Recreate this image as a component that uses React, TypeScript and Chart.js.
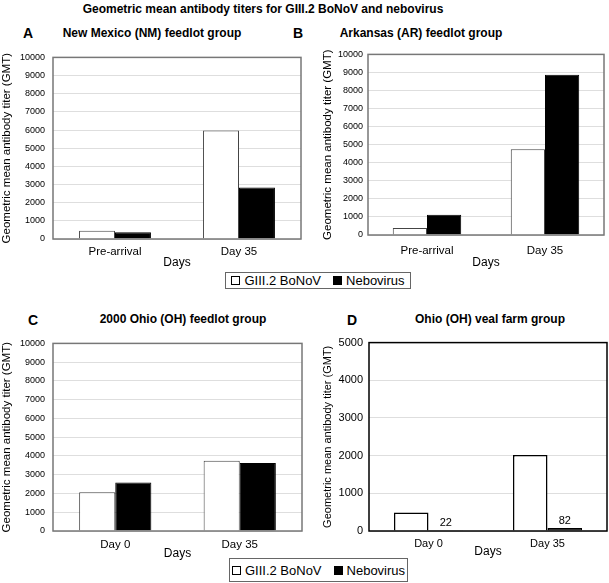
import React, { useEffect, useRef } from "react";
import { Chart, registerables } from "chart.js";
Chart.register(...registerables);

const FONT = "'Liberation Sans', Arial, Helvetica, sans-serif";

const mainTitle = "Geometric mean antibody titers for GIII.2 BoNoV and nebovirus";
const seriesLabels = ["GIII.2 BoNoV", "Nebovirus"];
const feedlotDays = ["Pre-arrival", "Day 35"];
const ohioDays = ["Day 0", "Day 35"];
const xTitle = "Days";
const yTitle = "Geometric mean antibody titer (GMT)";

const nmBoNoV = [450, 5980];
const nmNebovirus = [370, 2830];
const arBoNoV = [390, 4750];
const arNebovirus = [1120, 8880];
const oh2000BoNoV = [2060, 3750];
const oh2000Nebovirus = [2580, 3620];
const vealBoNoV = [490, 2020];
const vealNebovirus = [22, 82];

const feedlotYMax = 10000;
const vealYMax = 5000;
const yStep = 1000;

type Geom = {
  x: number; y: number; w: number; h: number;
  yAxisW: number; padTop: number; padRight: number; xAxisH: number;
  xTickPad: number; xTitlePad: number; yTickPad: number; yTitlePad: number;
};
type Sty = {
  frameColor: string; frameWidth: number; whiteBorder: string; barBorder: number;
  xTickSize: number; yTickSize: number; yTitleSize: number; gridColor: string;
};

function BarPanel(props: {
  labels: string[]; bonov: number[]; nebo: number[]; yMax: number; g: Geom; s: Sty; showValues?: boolean;
}) {
  const { labels, bonov, nebo, yMax, g, s, showValues } = props;
  const ref = useRef<HTMLCanvasElement>(null);
  useEffect(() => {
    const frame = {
      id: "frame",
      afterDatasetsDraw(chart: any) {
        const { ctx, chartArea: ca } = chart;
        ctx.save();
        ctx.strokeStyle = s.frameColor;
        ctx.lineWidth = s.frameWidth;
        ctx.strokeRect(ca.left, ca.top, ca.right - ca.left, ca.bottom - ca.top);
        ctx.restore();
      },
    };
    const valueLabels = {
      id: "valueLabels",
      afterDatasetsDraw(chart: any) {
        if (!showValues) return;
        const { ctx } = chart;
        const meta = chart.getDatasetMeta(1);
        ctx.save();
        ctx.fillStyle = "#000";
        ctx.font = `11px ${FONT}`;
        ctx.textAlign = "center";
        ctx.textBaseline = "alphabetic";
        meta.data.forEach((el: any, i: number) => {
          ctx.fillText(String(chart.data.datasets[1].data[i]), el.x, el.y - 4);
        });
        ctx.restore();
      },
    };
    const chart = new Chart(ref.current as HTMLCanvasElement, {
      type: "bar",
      data: {
        labels,
        datasets: [
          {
            label: seriesLabels[0], data: bonov, backgroundColor: "#ffffff", borderColor: s.whiteBorder,
            borderWidth: s.barBorder, categoryPercentage: 0.58, barPercentage: 1,
          },
          {
            label: seriesLabels[1], data: nebo, backgroundColor: "#000000", borderColor: "#000000",
            borderWidth: s.barBorder, categoryPercentage: 0.58, barPercentage: 1,
          },
        ],
      },
      options: {
        responsive: false,
        animation: false,
        layout: { padding: { left: 0, top: g.padTop, right: g.padRight, bottom: 0 } },
        plugins: { legend: { display: false }, tooltip: { enabled: false }, title: { display: false } },
        scales: {
          x: {
            grid: { display: false, drawTicks: false },
            border: { display: false },
            ticks: { color: "#000", font: { family: FONT, size: s.xTickSize }, padding: g.xTickPad, maxRotation: 0, autoSkip: false },
            title: { display: true, text: xTitle, color: "#000", font: { family: FONT, size: 12 }, padding: { top: 0, bottom: g.xTitlePad } },
            afterFit: (sc: any) => { sc.height = g.xAxisH; },
          },
          y: {
            min: 0, max: yMax,
            ticks: {
              stepSize: yStep, color: "#000", font: { family: FONT, size: s.yTickSize }, padding: g.yTickPad,
              callback: (v: any) => String(v),
            },
            grid: { color: s.gridColor, drawTicks: false, lineWidth: 1 },
            border: { display: false },
            title: { display: true, text: yTitle, color: "#000", font: { family: FONT, size: s.yTitleSize }, padding: { top: g.yTitlePad, bottom: 0 } },
            afterFit: (sc: any) => { sc.width = g.yAxisW; },
          },
        },
      } as any,
      plugins: [frame, valueLabels],
    });
    return () => chart.destroy();
  }, []);
  return (
    <canvas ref={ref} width={g.w} height={g.h}
      style={{ position: "absolute", left: g.x, top: g.y, width: g.w, height: g.h }} />
  );
}

function Text(props: { cx?: number; left?: number; top: number; size: number; bold?: boolean; children: any }) {
  const { cx, left, top, size, bold, children } = props;
  const base: any = {
    position: "absolute", top, fontFamily: FONT, fontSize: size, lineHeight: `${size}px`,
    fontWeight: bold ? "bold" : "normal", color: "#000", whiteSpace: "nowrap",
  };
  if (cx !== undefined) {
    return <div style={{ ...base, left: cx - 250, width: 500, textAlign: "center" }}>{children}</div>;
  }
  return <div style={{ ...base, left }}>{children}</div>;
}

function Legend(props: { left: number; top: number; width: number; height: number }) {
  const { left, top, width, height } = props;
  return (
    <div style={{
      position: "absolute", left, top, width, height, boxSizing: "border-box", border: "1px solid #666",
      background: "#fff", display: "flex", alignItems: "center", justifyContent: "center", gap: 12,
      fontFamily: FONT, fontSize: 13, color: "#000", zIndex: 2,
    }}>
      {seriesLabels.map((l, i) => (
        <span key={l} style={{ display: "flex", alignItems: "center" }}>
          <span style={{
            display: "inline-block", width: 9, height: 9, boxSizing: "border-box", border: "1px solid #000",
            background: i === 0 ? "#fff" : "#000", marginRight: 4,
          }} />
          {l}
        </span>
      ))}
    </div>
  );
}

const grayStyle: Sty = {
  frameColor: "#777", frameWidth: 1.5, whiteBorder: "#444", barBorder: 1,
  xTickSize: 11.5, yTickSize: 9, yTitleSize: 11.5, gridColor: "#dedede",
};
const blackStyle: Sty = {
  frameColor: "#000", frameWidth: 1.5, whiteBorder: "#000", barBorder: 1.5,
  xTickSize: 11, yTickSize: 11, yTitleSize: 11, gridColor: "#dedede",
};

export default function App() {
  return (
    <div style={{ position: "absolute", left: 0, top: 0, width: 609, height: 583, background: "#fff", overflow: "hidden" }}>
      <Text cx={263} top={3} size={12} bold>{mainTitle}</Text>

      <Text left={23} top={26} size={14} bold>A</Text>
      <Text cx={152} top={27} size={12} bold>New Mexico (NM) feedlot group</Text>
      <Text left={293} top={26} size={14} bold>B</Text>
      <Text cx={421} top={27} size={12} bold>Arkansas (AR) feedlot group</Text>
      <Text left={28} top={313} size={14} bold>C</Text>
      <Text cx={183} top={313} size={12} bold>2000 Ohio (OH) feedlot group</Text>
      <Text left={347} top={313} size={14} bold>D</Text>
      <Text cx={490} top={313} size={12} bold>Ohio (OH) veal farm group</Text>

      <BarPanel labels={feedlotDays} bonov={nmBoNoV} nebo={nmNebovirus} yMax={feedlotYMax} s={grayStyle}
        g={{ x: 0, y: 44, w: 305, h: 234, yAxisW: 53, padTop: 8, padRight: 4, xAxisH: 39, xTickPad: 6, xTitlePad: 8, yTickPad: 8, yTitlePad: 0 }} />
      <BarPanel labels={feedlotDays} bonov={arBoNoV} nebo={arNebovirus} yMax={feedlotYMax} s={grayStyle}
        g={{ x: 306, y: 44, w: 303, h: 234, yAxisW: 62, padTop: 9, padRight: 5, xAxisH: 43, xTickPad: 9, xTitlePad: 8, yTickPad: 5, yTitlePad: 14.5 }} />
      <BarPanel labels={ohioDays} bonov={oh2000BoNoV} nebo={oh2000Nebovirus} yMax={feedlotYMax} s={grayStyle}
        g={{ x: 0, y: 330, w: 305, h: 245, yAxisW: 53, padTop: 8, padRight: 3, xAxisH: 44, xTickPad: 7, xTitlePad: 14, yTickPad: 8, yTitlePad: 0 }} />
      <BarPanel labels={ohioDays} bonov={vealBoNoV} nebo={vealNebovirus} yMax={vealYMax} s={blackStyle} showValues
        g={{ x: 306, y: 330, w: 303, h: 245, yAxisW: 63, padTop: 12, padRight: 2, xAxisH: 44, xTickPad: 6, xTitlePad: 16, yTickPad: 6, yTitlePad: 15.4 }} />

      <Legend left={225} top={272} width={186} height={17} />
      <Legend left={229} top={558} width={179} height={24} />
    </div>
  );
}
